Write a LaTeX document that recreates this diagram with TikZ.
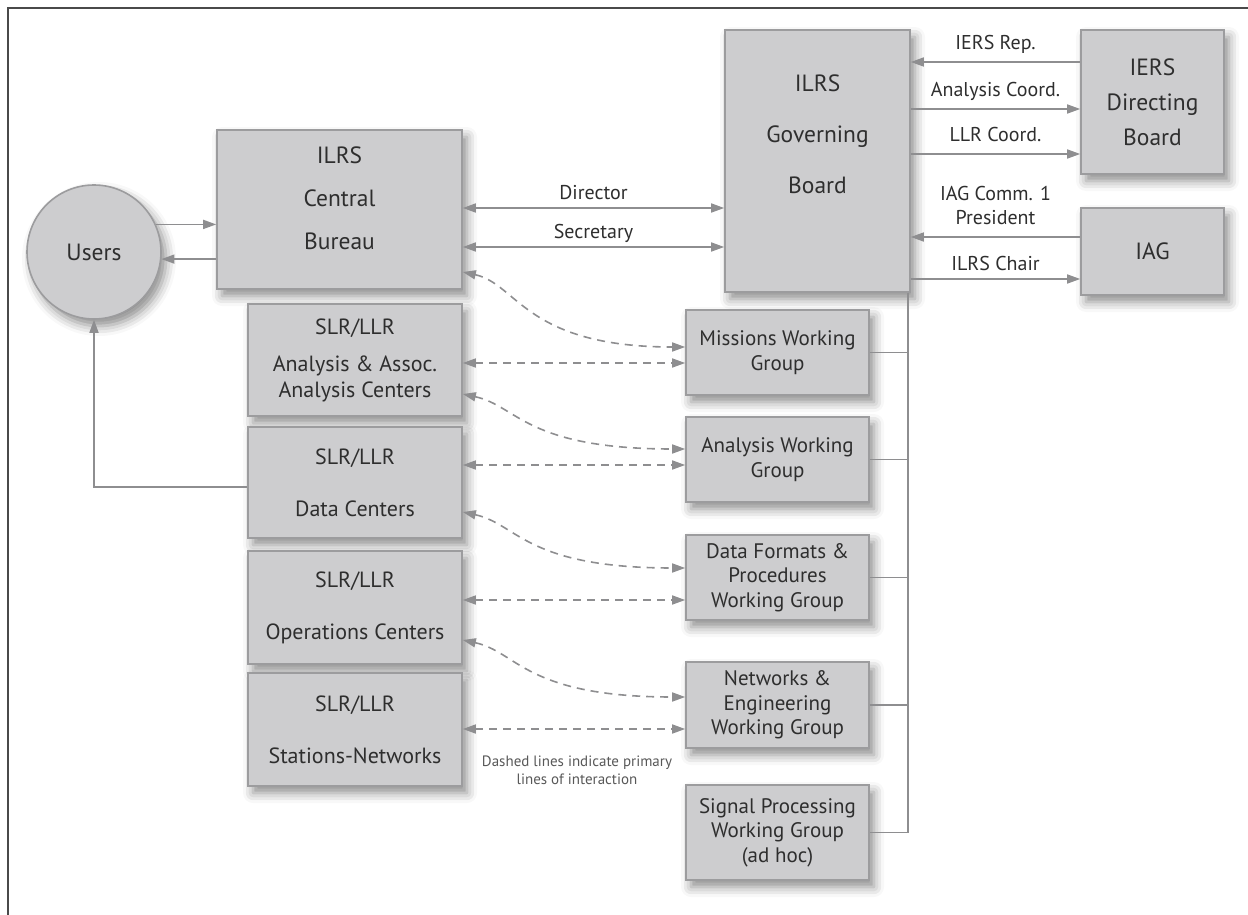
\documentclass[tikz,border=0pt]{standalone}
\usepackage{fontspec}
\setmainfont{PT Sans}
\usetikzlibrary{arrows.meta,shadows.blur}

\definecolor{boxfill}{HTML}{CDCDCF}
\definecolor{boxline}{HTML}{9C9C9E}
\definecolor{txt}{HTML}{2E2E2E}
\definecolor{wire}{HTML}{8E8E90}
\definecolor{frameline}{HTML}{4A4A4A}

\tikzset{
  unit/.style={draw=boxline, line width=1.6pt, fill=boxfill, text=txt, align=center,
    blur shadow={shadow xshift=5pt, shadow yshift=-7pt, shadow blur radius=10pt, shadow opacity=45}},
  bigbox/.style={unit, font=\fontsize{23.5}{#1}\selectfont},
  centre/.style={unit, minimum width=214pt, font=\fontsize{22}{26}\selectfont},
  wgroup/.style={unit, minimum width=183pt, minimum height=85pt, font=\fontsize{21}{24.5}\selectfont},
  link/.style={draw=wire, line width=1.6pt, >={Triangle[length=13pt,width=9pt]}},
  dlink/.style={link, dash pattern=on 8pt off 6pt},
  tag/.style={text=txt, font=\fontsize{20}{24}\selectfont, inner sep=3pt, text height=14.5pt, text depth=4.5pt},
  note/.style={text=txt!80, font=\fontsize{15}{18}\selectfont, align=center}
}

\begin{document}
\begin{tikzpicture}[x=1pt,y=-1pt]
\useasboundingbox (0,0) rectangle (1248,915);
\draw[frameline, line width=2pt] (8,915) -- (8,8) -- (1248,8);

% governing side
\node[unit, circle, minimum size=134pt, font=\fontsize{23.5}{28}\selectfont] (users) at (94,252) {Users};
\node[bigbox=43, minimum width=245pt, minimum height=159pt, text depth=23pt] (cb) at (339.5,209.5) {ILRS\\Central\\Bureau};
\node[bigbox=51, minimum width=185pt, minimum height=262pt, text depth=53pt] (gb) at (817.5,161) {ILRS\\Governing\\Board};
\node[bigbox=35, minimum width=143pt, minimum height=144pt] (iers) at (1152.5,102) {IERS\\Directing\\Board};
\node[bigbox=28, minimum width=143pt, minimum height=87pt] (iag) at (1152.5,251.5) {IAG};

% SLR/LLR centres
\node[centre, minimum height=112pt] (aac) at (355,360) {SLR/LLR\\[11pt]Analysis \& Assoc.\\Analysis Centers};
\node[centre, minimum height=111pt] (dc) at (355,482.5) {SLR/LLR\\[26pt]Data Centers};
\node[centre, minimum height=113pt] (oc) at (355,607.5) {SLR/LLR\\[26pt]Operations Centers};
\node[centre, minimum height=113pt] (sn) at (355,729.5) {SLR/LLR\\[26pt]Stations-Networks};

% working groups
\node[wgroup] (mwg) at (777.5,352.5) {Missions Working\\Group};
\node[wgroup] (awg) at (777.5,459.5) {Analysis Working\\Group};
\node[wgroup] (dwg) at (777.5,577.5) {Data Formats \&\\Procedures\\Working Group};
\node[wgroup, minimum height=86pt] (nwg) at (777.5,705) {Networks \&\\Engineering\\Working Group};
\node[wgroup, minimum height=95pt] (swg) at (777.5,832.5) {Signal Processing\\Working Group\\(ad hoc)};

\node[note] (hint) at (577,770) {Dashed lines indicate primary\\lines of interaction};

% users
\draw[link,->] (users.24) -- (users.24 -| cb.west);
\draw[link,->] (users.-6 -| cb.west) -- (users.-6);
\draw[link,->] (dc.west |- 0,487) -| (users.south);

% board links
\draw[link,<->] (cb.east |- 0,208) -- node[tag, above] {Director} (gb.west |- 0,208);
\draw[link,<->] (cb.east |- 0,247) -- node[tag, above] {Secretary} (gb.west |- 0,247);
\draw[link,<-] (gb.east |- 0,62) -- node[tag, above=4pt] {IERS Rep.} (iers.west |- 0,62);
\draw[link,->] (gb.east |- 0,109) -- node[tag, above=4pt] {Analysis Coord.} (iers.west |- 0,109);
\draw[link,->] (gb.east |- 0,154) -- node[tag, above=4pt] {LLR Coord.} (iers.west |- 0,154);
\draw[link,<-] (gb.east |- 0,237) -- node[text=txt, font=\fontsize{20}{24}\selectfont, align=center, above=8pt] {IAG Comm. 1\\President} (iag.west |- 0,237);
\draw[link,->] (gb.east |- 0,279) -- node[tag, above] {ILRS Chair} (iag.west |- 0,279);

% working group bus
\coordinate (bus) at ([xshift=-3pt]gb.south east);
\draw[link] (bus) |- (swg.east);
\foreach \g in {mwg,awg,dwg,nwg}
  \draw[link] (\g.east) -- (\g.east -| bus);

% dashed interaction lines
\draw[dlink,<->] (cb.east |- 0,272) .. controls +(55,12) and +(-160,0) .. (mwg.west |- 0,347);
\draw[dlink,<->] (aac.east |- 0,363) -- (mwg.west |- 0,363);
\draw[dlink,<->] (aac.east |- 0,394) .. controls +(55,12) and +(-160,0) .. (awg.west |- 0,449);
\draw[dlink,<->] (dc.east |- 0,465) -- (awg.west |- 0,465);
\draw[dlink,<->] (dc.east |- 0,512) .. controls +(55,12) and +(-160,0) .. (dwg.west |- 0,568);
\draw[dlink,<->] (oc.east |- 0,600) -- (dwg.west |- 0,600);
\draw[dlink,<->] (oc.east |- 0,640) .. controls +(55,12) and +(-160,0) .. (nwg.west |- 0,697);
\draw[dlink,<->] (sn.east |- 0,729) -- (nwg.west |- 0,729);
\end{tikzpicture}
\end{document}
